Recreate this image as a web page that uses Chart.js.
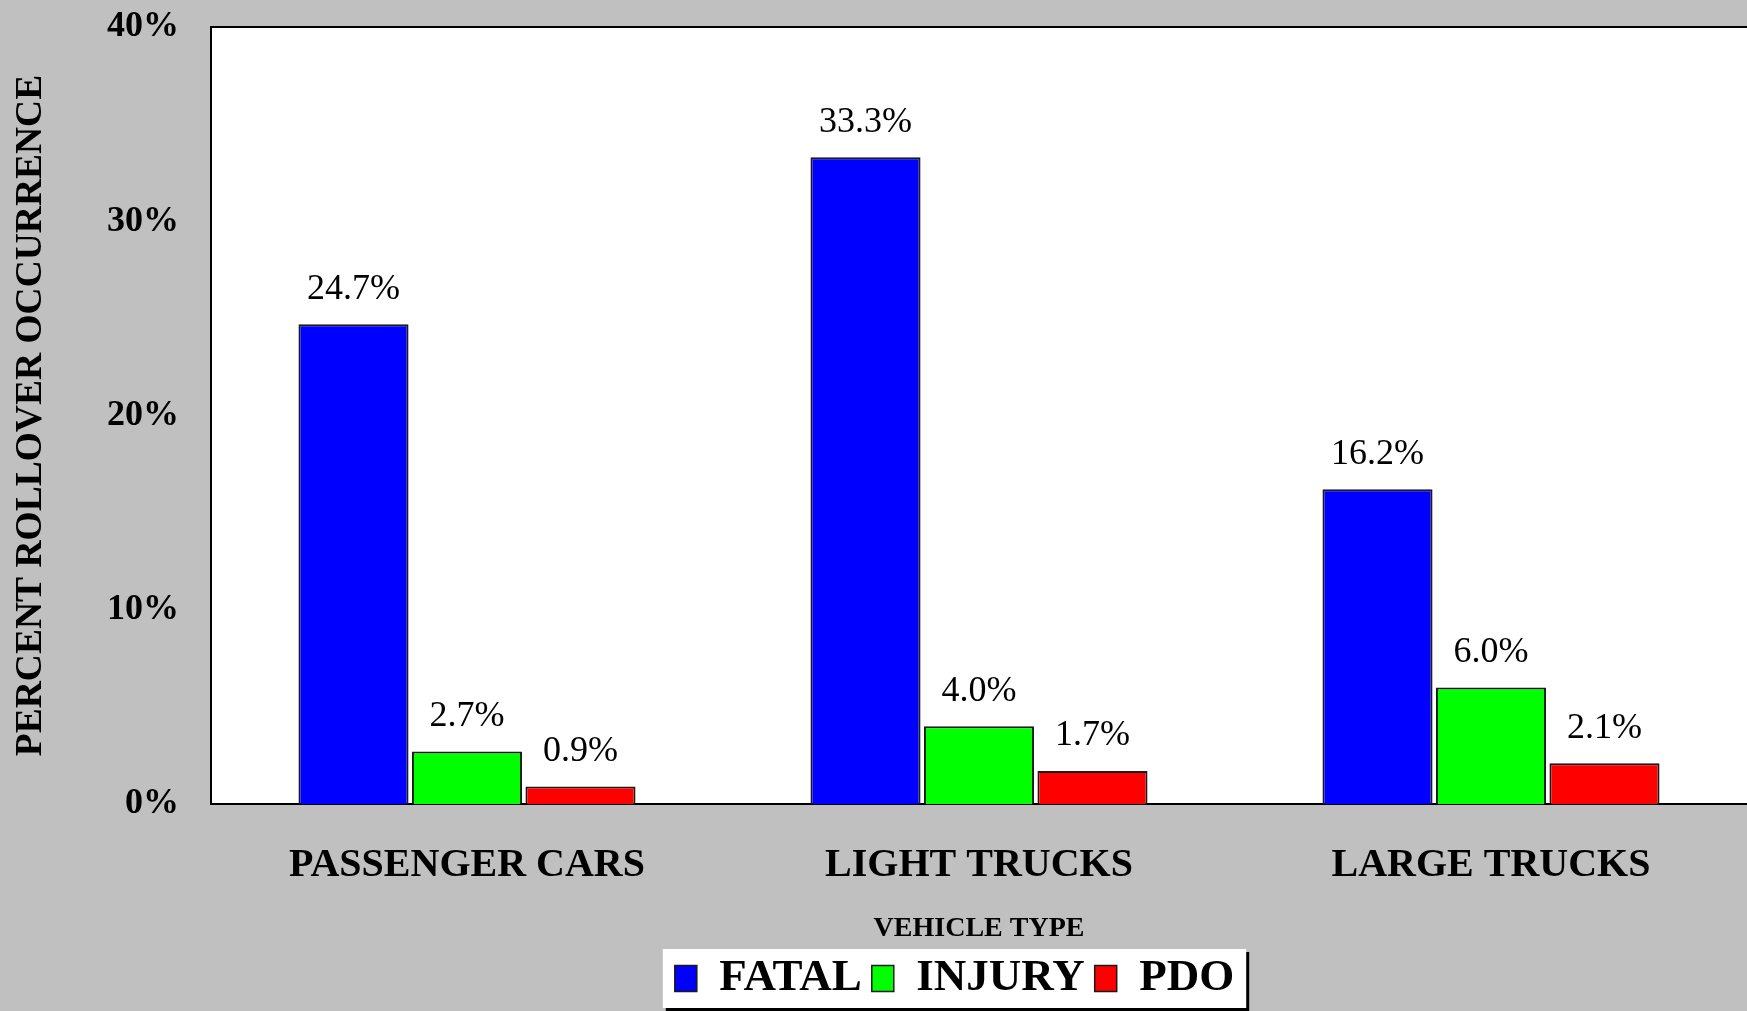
<!DOCTYPE html>
<html>
<head>
<meta charset="utf-8">
<script src="https://cdn.jsdelivr.net/npm/chart.js@4.4.1/dist/chart.umd.min.js"></script>
<style>
  html, body { margin: 0; padding: 0; background: #c0c0c0; }
  canvas { display: block; }
</style>
</head>
<body>
<canvas id="rollover-chart" width="1747" height="1011"></canvas>
<script>
// chart data
const vehicleTypes = ['PASSENGER CARS', 'LIGHT TRUCKS', 'LARGE TRUCKS'];
const fatalPct = [24.7, 33.3, 16.2];
const injuryPct = [2.7, 4.0, 6.0];
const pdoPct = [0.9, 1.7, 2.1];
const yTicks = [0, 10, 20, 30, 40];

const SERIF = "'Liberation Serif', 'Times New Roman', serif";

// gray page, white plot area, top frame line and the legend box
const backdrop = {
    id: 'backdrop',
    afterLayout(chart) {
        // legend sits right of center in the original
        chart.legend.left += 81;
        chart.legend.right += 81;
    },
    beforeDraw(chart) {
        const { ctx, chartArea: a } = chart;
        ctx.save();
        ctx.fillStyle = '#c0c0c0';
        ctx.fillRect(0, 0, chart.width, chart.height);
        ctx.fillStyle = '#ffffff';
        ctx.fillRect(a.left, a.top, a.right - a.left, a.bottom - a.top);
        ctx.strokeStyle = '#000';
        ctx.lineWidth = 2;
        ctx.beginPath();
        ctx.moveTo(a.left, a.top);
        ctx.lineTo(a.right, a.top);
        ctx.stroke();

        // legend frame with a drop shadow
        const hb = chart.legend.legendHitBoxes;
        if (hb && hb.length) {
            const l = Math.min(...hb.map(h => h.left)) - 12;
            const r = Math.max(...hb.map(h => h.left + h.width)) + 12;
            const t = Math.min(...hb.map(h => h.top)) - 7;
            const b = Math.max(...hb.map(h => h.top + h.height)) + 7;
            ctx.fillStyle = '#000';
            ctx.fillRect(l + 3, t + 3, r - l, b - t);
            ctx.fillStyle = '#fff';
            ctx.fillRect(l, t, r - l, b - t);
        }
        ctx.restore();
    }
};

// value labels above each bar
const barLabels = {
    id: 'barLabels',
    afterDatasetsDraw(chart) {
        const ctx = chart.ctx;
        ctx.save();
        ctx.fillStyle = '#000';
        ctx.font = `36px ${SERIF}`;
        ctx.textAlign = 'center';
        ctx.textBaseline = 'bottom';
        chart.data.datasets.forEach((ds, i) => {
            chart.getDatasetMeta(i).data.forEach((bar, j) => {
                ctx.fillText(ds.data[j].toFixed(1) + '%', bar.x, bar.y - 17);
            });
        });
        ctx.restore();
    }
};

const barBorder = { top: 2, right: 2, left: 2, bottom: 0 };

const data = {
    labels: vehicleTypes,
    datasets: [
        { label: 'FATAL', data: fatalPct, backgroundColor: '#0000ff', borderColor: '#1a1a1a', borderWidth: barBorder },
        { label: 'INJURY', data: injuryPct, backgroundColor: '#00ff00', borderColor: '#1a1a1a', borderWidth: barBorder },
        { label: 'PDO', data: pdoPct, backgroundColor: '#ff0000', borderColor: '#1a1a1a', borderWidth: barBorder }
    ]
};

const config = {
    type: 'bar',
    data: data,
    options: {
        responsive: false,
        animation: false,
        categoryPercentage: 0.665,
        barPercentage: 0.97,
        layout: { padding: { top: 27, right: 0, bottom: 0, left: 0 } },
        plugins: {
            legend: {
                position: 'bottom',
                labels: {
                    color: '#000',
                    boxWidth: 22,
                    boxHeight: 26,
                    padding: 10,
                    font: { family: SERIF, size: 45, weight: 'bold' }
                }
            },
            tooltip: { enabled: false }
        },
        scales: {
            x: {
                ticks: {
                    color: '#000',
                    padding: 38,
                    font: { family: SERIF, size: 40, weight: 'bold' }
                },
                grid: { display: false, drawTicks: false },
                border: { display: true, color: '#000', width: 2 },
                title: {
                    display: true,
                    text: 'VEHICLE TYPE',
                    color: '#000',
                    font: { family: SERIF, size: 28, weight: 'bold' },
                    padding: { top: 30, bottom: 0 }
                },
                afterFit(s) { s.height = 142; }
            },
            y: {
                min: 0,
                max: 40,
                afterBuildTicks(s) { s.ticks = yTicks.map(v => ({ value: v })); },
                ticks: {
                    color: '#000',
                    padding: 32,
                    font: { family: SERIF, size: 36, weight: 'bold' },
                    callback: v => v + '%'
                },
                grid: { display: false, drawTicks: false },
                border: { display: true, color: '#000', width: 2 },
                title: {
                    display: true,
                    text: 'PERCENT ROLLOVER OCCURRENCE',
                    color: '#000',
                    font: { family: SERIF, size: 37.5, weight: 'bold' },
                    padding: { top: 9, bottom: 0 }
                },
                afterFit(s) {
                    s.width = 211;
                    // keep the tick padding from pushing the plot down
                    s.paddingTop = 0;
                    s.paddingBottom = 0;
                }
            }
        }
    },
    plugins: [backdrop, barLabels]
};

const myChart = new Chart(document.getElementById('rollover-chart').getContext('2d'), config);
</script>
</body>
</html>
